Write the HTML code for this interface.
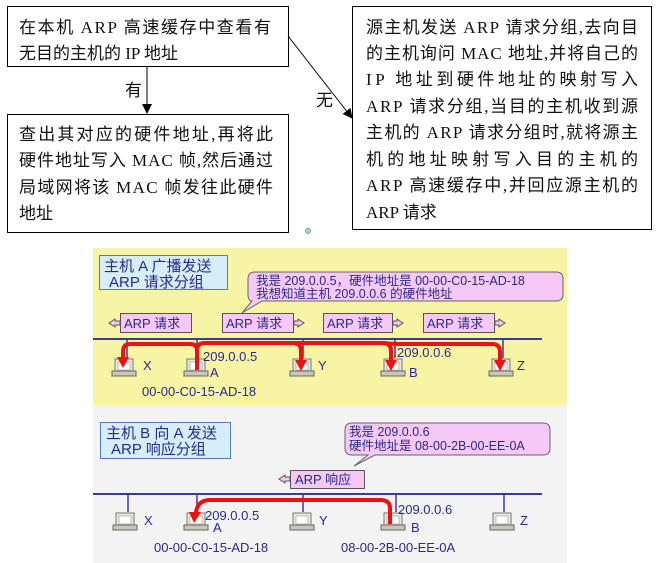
<!DOCTYPE html>
<html><head><meta charset="utf-8"><style>
html,body{margin:0;padding:0;background:#fff;}
svg{display:block;}
.t{font-family:"Liberation Serif","Noto Sans CJK SC",serif;font-size:17px;fill:#111;}
.s{font-family:"Liberation Sans","Noto Sans CJK SC",sans-serif;fill:#2a2a8a;}
</style></head><body>
<svg width="657" height="563" viewBox="0 0 657 563" xmlns="http://www.w3.org/2000/svg">
<defs>
<marker id="ab" markerWidth="10" markerHeight="10" refX="9" refY="5" orient="auto" markerUnits="userSpaceOnUse"><path d="M0,0 L10,5 L0,10 Z" fill="#000"/></marker>
<g id="pc">
<rect x="-9" y="-12" width="18" height="12" fill="#e8e8e0" stroke="#777" stroke-width="1"/>
<rect x="-6" y="-9" width="12" height="8" fill="#fff" stroke="#999" stroke-width="0.6"/>
<rect x="-12" y="0" width="24" height="5" fill="#c8c8b8" stroke="#666" stroke-width="1"/>
</g>
</defs>
<rect x="7.5" y="6.5" width="281" height="60" fill="#fff" stroke="#000"/>
<text class="t" x="19" y="33" textLength="252" lengthAdjust="spacing">在本机 ARP 高速缓存中查看有</text>
<text class="t" x="19" y="59">无目的主机的 IP 地址</text>
<rect x="7.5" y="114.5" width="281" height="118" fill="#fff" stroke="#000"/>
<text class="t" x="19" y="140" textLength="254" lengthAdjust="spacing">查出其对应的硬件地址,再将此</text>
<text class="t" x="19" y="166" textLength="254" lengthAdjust="spacing">硬件地址写入 MAC 帧,然后通过</text>
<text class="t" x="19" y="193" textLength="254" lengthAdjust="spacing">局域网将该 MAC 帧发往此硬件</text>
<text class="t" x="19" y="219">地址</text>
<line x1="147" y1="67" x2="147" y2="113" stroke="#000" marker-end="url(#ab)"/>
<text class="t" x="125" y="96" font-size="16">有</text>
<line x1="288" y1="36" x2="352" y2="118" stroke="#000" marker-end="url(#ab)"/>
<text class="t" x="316" y="106" font-size="16">无</text>
<rect x="352.5" y="6.5" width="299" height="223" fill="#fff" stroke="#000"/>
<g class="t">
<text x="366" y="33" textLength="272" lengthAdjust="spacing">源主机发送 ARP 请求分组,去向目</text>
<text x="366" y="59" textLength="272" lengthAdjust="spacing">的主机询问 MAC 地址,并将自己的</text>
<text x="366" y="85" textLength="272" lengthAdjust="spacing">IP 地址到硬件地址的映射写入</text>
<text x="366" y="112" textLength="272" lengthAdjust="spacing">ARP 请求分组,当目的主机收到源</text>
<text x="366" y="138" textLength="272" lengthAdjust="spacing">主机的 ARP 请求分组时,就将源主</text>
<text x="366" y="165" textLength="272" lengthAdjust="spacing">机的地址映射写入目的主机的</text>
<text x="366" y="191" textLength="272" lengthAdjust="spacing">ARP 高速缓存中,并回应源主机的</text>
<text x="366" y="218">ARP 请求</text>
</g>
<circle cx="308" cy="231" r="2.5" fill="#bcd" stroke="#6a8" stroke-width="1"/>

<rect x="93" y="248" width="474" height="157" fill="#f7f4a4"/>
<rect x="99.5" y="255.5" width="128" height="34" fill="#d6eef8" stroke="#5577bb"/>
<text class="s" x="104" y="271" font-size="15">主机 A 广播发送</text>
<text class="s" x="109" y="287" font-size="15">ARP 请求分组</text>
<path d="M255,272 H556 Q563,272 563,279 V294 Q563,301 556,301 H262 L242,313 L252,301 Q248,301 248,294 V279 Q248,272 255,272 Z" fill="#f5c8f5" stroke="#666"/>
<text class="s" x="256" y="285" font-size="12.5">我是 209.0.0.5，硬件地址是 00-00-C0-15-AD-18</text>
<text class="s" x="256" y="298" font-size="12.5">我想知道主机 209.0.0.6 的硬件地址</text>
<g font-size="13">
<rect x="120.5" y="313.5" width="71" height="19" fill="#f5c8f5" stroke="#555"/><text class="s" x="124" y="328">ARP 请求</text>
<path d="M109,323 l6,-4 v2 h5 v4 h-5 v2 z" fill="#f5c8f5" stroke="#555"/>
<rect x="222.5" y="313.5" width="71" height="19" fill="#f5c8f5" stroke="#555"/><text class="s" x="226" y="328">ARP 请求</text>
<path d="M294,321 h4 v-2 l6,4 l-6,4 v-2 h-4 z" fill="#f5c8f5" stroke="#555"/>
<rect x="323.5" y="313.5" width="69" height="19" fill="#f5c8f5" stroke="#555"/><text class="s" x="327" y="328">ARP 请求</text>
<path d="M393,321 h4 v-2 l6,4 l-6,4 v-2 h-4 z" fill="#f5c8f5" stroke="#555"/>
<rect x="423.5" y="313.5" width="71" height="19" fill="#f5c8f5" stroke="#555"/><text class="s" x="427" y="328">ARP 请求</text>
<path d="M495,321 h4 v-2 l6,4 l-6,4 v-2 h-4 z" fill="#f5c8f5" stroke="#555"/>
</g>
<line x1="93" y1="339" x2="542" y2="339" stroke="#3a3a9a" stroke-width="2"/>
<g stroke="#3a3a9a" stroke-width="1.5">
<line x1="127" y1="339" x2="127" y2="358"/><line x1="197" y1="339" x2="197" y2="358"/>
<line x1="303" y1="339" x2="303" y2="358"/><line x1="395" y1="339" x2="395" y2="358"/><line x1="503" y1="339" x2="503" y2="358"/>
</g>
<use href="#pc" x="124" y="371"/><use href="#pc" x="196" y="371"/><use href="#pc" x="302" y="371"/><use href="#pc" x="393" y="371"/><use href="#pc" x="501" y="371"/>
<g fill="none" stroke="#ee1111" stroke-width="4">
<path d="M197,370 V350 Q197,344 190,344 H130 Q123,344 123,352 V360"/>
<path d="M197,350 Q197,343 205,343 H293 Q301,343 301,351 V362"/>
<path d="M205,343 H383 Q391,343 391,351 V362"/>
<path d="M383,343 Q391,344 400,344 H492 Q500,344 500,352 V362"/>
</g>
<g fill="#ee1111">
<path d="M117,357 h12 l-6,11 z"/><path d="M295,360 h12 l-6,11 z"/><path d="M385,360 h12 l-6,11 z"/><path d="M494,360 h12 l-6,11 z"/>
</g>
<g class="s" font-size="13">
<text x="143" y="370">X</text><text x="203" y="361">209.0.0.5</text><text x="210" y="377">A</text>
<text x="142" y="396">00-00-C0-15-AD-18</text><text x="318" y="370">Y</text>
<text x="397" y="357">209.0.0.6</text><text x="409" y="377">B</text><text x="517" y="370">Z</text>
</g>

<rect x="93" y="405" width="474" height="158" fill="#f3f3f3"/>
<rect x="100.5" y="422.5" width="130" height="36" fill="#d6eef8" stroke="#5577bb"/>
<text class="s" x="106" y="438" font-size="15">主机 B 向 A 发送</text>
<text class="s" x="111" y="454" font-size="15">ARP 响应分组</text>
<path d="M352,423 H543 Q550,423 550,430 V448 Q550,455 543,455 H375 L354,466 L368,455 H352 Q345,455 345,448 V430 Q345,423 352,423 Z" fill="#f5c8f5" stroke="#666"/>
<text class="s" x="349" y="436" font-size="12.5">我是 209.0.0.6</text>
<text class="s" x="349" y="450" font-size="12.5">硬件地址是 08-00-2B-00-EE-0A</text>
<rect x="290.5" y="470.5" width="74" height="18" fill="#f5c8f5" stroke="#555"/>
<text class="s" x="295" y="484" font-size="13">ARP 响应</text>
<path d="M279,479 l6,-4 v2 h5 v4 h-5 v2 z" fill="#f5c8f5" stroke="#555"/>
<line x1="93" y1="494" x2="542" y2="494" stroke="#3a3a9a" stroke-width="2"/>
<g stroke="#3a3a9a" stroke-width="1.5">
<line x1="128" y1="494" x2="128" y2="512"/><line x1="197" y1="494" x2="197" y2="512"/>
<line x1="303" y1="494" x2="303" y2="512"/><line x1="396" y1="494" x2="396" y2="512"/><line x1="504" y1="494" x2="504" y2="512"/>
</g>
<use href="#pc" x="125" y="525"/><use href="#pc" x="196" y="525"/><use href="#pc" x="302" y="525"/><use href="#pc" x="393" y="525"/><use href="#pc" x="502" y="525"/>
<path d="M390,524 V508 Q390,500 380,500 H210 Q198,500 196,512 V515" fill="none" stroke="#ee1111" stroke-width="4"/>
<path d="M189,512 h12 l-7,11 z" fill="#ee1111"/>
<g class="s" font-size="13">
<text x="144" y="525">X</text><text x="205" y="520">209.0.0.5</text><text x="213" y="532">A</text>
<text x="154" y="552">00-00-C0-15-AD-18</text><text x="319" y="525">Y</text>
<text x="398" y="514">209.0.0.6</text><text x="411" y="532">B</text><text x="520" y="525">Z</text>
<text x="341" y="552">08-00-2B-00-EE-0A</text>
</g>
</svg>
</body></html>
